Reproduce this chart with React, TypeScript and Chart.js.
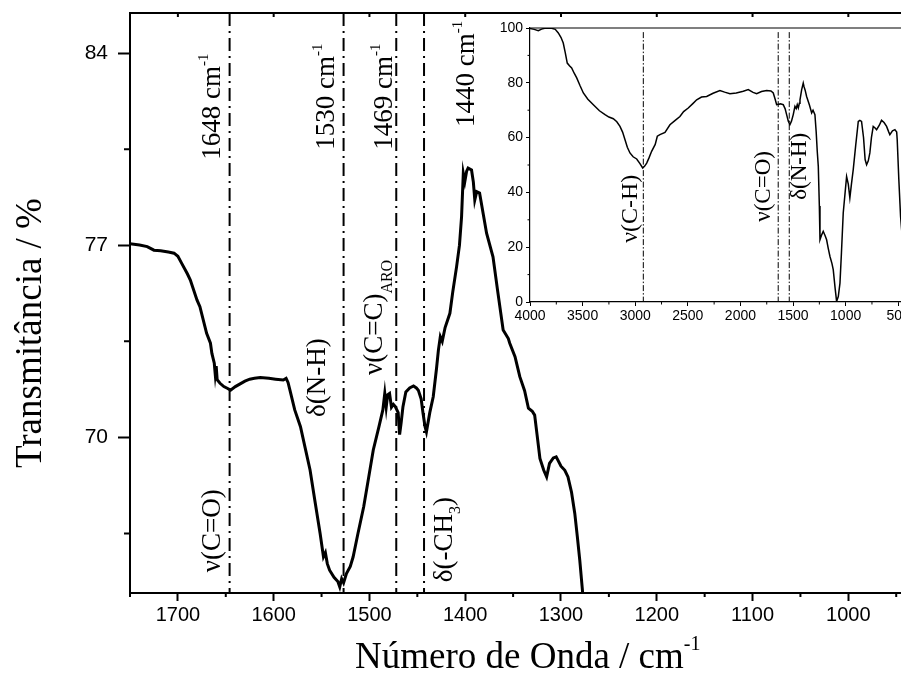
import React, { useEffect, useRef } from 'react';
import { Chart, registerables } from 'chart.js';

Chart.register(...registerables);

// ---------------- DATA ----------------
const mainWavenumber = [
  1750, 1740, 1732, 1725, 1718, 1710, 1704, 1700, 1696, 1690, 1687, 1680, 1677, 1670, 1666, 1664.5,
  1662, 1661, 1660, 1659, 1656, 1652, 1648, 1645, 1640, 1635, 1630, 1625, 1620, 1614, 1605, 1598,
  1590, 1587, 1585, 1583, 1578, 1572, 1567, 1562, 1557, 1551.5, 1548, 1546, 1544, 1541.6, 1537, 1533,
  1531, 1529, 1527, 1524, 1520, 1517, 1512, 1506, 1501, 1496, 1490, 1486, 1484, 1482.5, 1481, 1479,
  1477, 1475, 1473, 1470, 1468.5, 1467, 1465, 1462, 1458, 1454, 1451, 1449, 1446, 1444, 1442, 1440.5,
  1437, 1433.4, 1430, 1428, 1426, 1424, 1421, 1416, 1413, 1409, 1406, 1403.8, 1402, 1400.4, 1398.5, 1397,
  1393.4, 1391.5, 1390, 1388, 1385, 1381, 1377.7, 1371, 1366, 1360.4, 1355, 1353.5, 1348, 1343, 1338, 1334,
  1330, 1327.5, 1325, 1322, 1318, 1315, 1312, 1308, 1305, 1300, 1296, 1292.7, 1289, 1285.6, 1283, 1280.4,
  1277.6, 1275,
];
const mainTransmittance = [
  77.05, 77.01, 76.95, 76.82, 76.8, 76.75, 76.71, 76.6, 76.34, 75.95, 75.73, 75.0, 74.76, 73.79, 73.43, 73.06,
  72.7, 72.3, 72.6, 72.1, 71.97, 71.85, 71.78, 71.72, 71.85, 71.95, 72.05, 72.12, 72.15, 72.18, 72.15, 72.12,
  72.09, 72.15, 72.0, 71.72, 71.0, 70.39, 69.6, 68.81, 67.7, 66.5, 65.65, 65.8, 65.4, 65.16, 64.9, 64.75,
  64.55, 64.85, 64.7, 65.04, 65.3, 65.65, 66.5, 67.47, 68.5, 69.54, 70.4, 71.0, 71.6, 71.1, 71.55, 71.6,
  71.1, 71.2, 71.12, 70.9, 70.1, 70.5, 71.12, 71.65, 71.8, 71.87, 71.8, 71.72, 71.4, 70.87, 70.4, 70.2,
  70.9, 71.48, 72.5, 73.18, 73.67, 73.5, 74.0, 74.52, 75.3, 76.22, 77.0, 78.04, 79.62, 79.32, 79.7, 79.81,
  79.74, 79.3, 78.65, 78.95, 78.9, 78.1, 77.44, 76.58, 75.3, 73.91, 73.6, 73.43, 72.94, 72.21, 71.7, 71.06,
  70.95, 70.81, 70.1, 69.23, 68.8, 68.56, 69.05, 69.25, 69.29, 68.95, 68.8, 68.56, 68.0, 67.23, 66.4, 65.53,
  64.43, 63.0,
];
const mainXTicks = [1700, 1600, 1500, 1400, 1300, 1200, 1100, 1000];
const mainXMinor = [1750, 1650, 1550, 1450, 1350, 1250, 1150, 1050, 950];
const mainYTicks = [70, 77, 84];
const mainYMinor = [66.5, 73.5, 80.5];
const mainMarkers = [1646, 1527, 1472, 1443];

const insetWavenumber = [
  4000, 3960, 3921, 3890, 3850, 3794, 3760, 3731, 3705, 3684, 3665, 3646, 3625, 3604, 3580, 3556,
  3525, 3493, 3450, 3398, 3340, 3287, 3250, 3208, 3175, 3145, 3120, 3097, 3075, 3050, 3020, 2986,
  2955, 2929, 2910, 2891, 2870, 2844, 2810, 2790, 2765, 2717, 2670, 2620, 2575, 2540, 2496, 2450,
  2416, 2370, 2321, 2260, 2195, 2150, 2100, 2040, 1973, 1926, 1880, 1846, 1800, 1751, 1710, 1688,
  1670, 1656, 1620, 1593, 1575, 1561, 1545, 1530, 1515, 1498, 1482, 1470, 1460, 1450, 1440, 1434,
  1418, 1403, 1395, 1385, 1371, 1345, 1323, 1310, 1292, 1280, 1270, 1260, 1250, 1244, 1228, 1213,
  1195, 1181, 1165, 1149, 1130, 1118, 1100, 1086, 1070, 1054, 1040, 1023, 1005, 991, 975, 960,
  945, 928, 905, 880, 865, 849, 830, 815, 801, 785, 770, 755, 738, 720, 706, 680,
  659, 635, 611, 590, 580, 555, 532, 515, 510, 495, 478, 465,
];
const insetTransmittance = [
  99.8, 99.5, 99.0, 99.6, 100, 99.9, 99.5, 98.2, 96.5, 94.5, 91, 87.2, 86.2, 85.4, 83.5, 81.8,
  79, 76.3, 74, 72.0, 69.8, 68.4, 67.5, 66.9, 65.8, 64.1, 62, 59.2, 56.5, 54.4, 53, 52.2,
  50.5, 48.9, 49.6, 50.7, 52.5, 55.0, 57.5, 60.5, 61.1, 61.9, 64.7, 66.3, 67.7, 69.5, 70.8, 72.5,
  73.8, 74.8, 75.0, 76.2, 77.2, 76.6, 76.0, 76.3, 76.9, 77.5, 76.5, 76.0, 76.8, 77.2, 77.0, 76.3,
  74, 72.0, 72.3, 72.0, 70.5, 68.4, 66, 64.7, 66, 68.4, 71.4, 70.6, 72.0, 70.8, 72.5, 73.8,
  77.5, 79.9, 78.5, 77.3, 75.0, 72, 69.0, 70.0, 68.4, 62, 55, 49.5, 35, 22.7, 24.5, 25.8,
  24.2, 22.7, 19.5, 16.6, 14, 11.8, 5, 0.2, 2, 6.9, 18, 32.5, 40, 45.8, 43, 38.0,
  43, 48.3, 57, 65.9, 66.3, 65.9, 60, 52, 50.1, 51.5, 54.4, 60, 64.1, 63.5, 62.9, 64.5,
  66.3, 65.5, 64.1, 62, 61.1, 62.5, 62.9, 62, 59.2, 45, 31.2, 25,
];
const insetXTicks = [4000, 3500, 3000, 2500, 2000, 1500, 1000, 500];
const insetXMinor = [3750, 3250, 2750, 2250, 1750, 1250, 750];
const insetYTicks = [0, 20, 40, 60, 80, 100];
const insetYMinor = [10, 30, 50, 70, 90];
const insetMarkers = [2923, 1641, 1536];

// ---------------- STYLE ----------------
const SERIF = '"Liberation Serif", "Times New Roman", serif';
const SANS = '"Liberation Sans", Arial, sans-serif';

type Seg = { t: string; size: number; dy: number };

const mainLabels: { x: number; y: number; segs: Seg[] }[] = [
  { x: 1655.8, y: 80.11, segs: [{ t: '1648 cm', size: 27, dy: 0 }, { t: '-1', size: 15, dy: -12 }] },
  { x: 1537.0, y: 80.48, segs: [{ t: '1530 cm', size: 27, dy: 0 }, { t: '-1', size: 15, dy: -12 }] },
  { x: 1476.5, y: 80.48, segs: [{ t: '1469 cm', size: 27, dy: 0 }, { t: '-1', size: 15, dy: -12 }] },
  { x: 1391.0, y: 81.31, segs: [{ t: '1440 cm', size: 27, dy: 0 }, { t: '-1', size: 15, dy: -12 }] },
  { x: 1655.8, y: 65.09, segs: [{ t: 'ν(C=O)', size: 27, dy: 0 }] },
  { x: 1546.4, y: 70.74, segs: [{ t: 'δ(N-H)', size: 27, dy: 0 }] },
  { x: 1486.9, y: 72.27, segs: [{ t: 'ν(C=C)', size: 27, dy: 0 }, { t: 'ARO', size: 16, dy: 10 }] },
  { x: 1413.9, y: 64.72, segs: [{ t: 'δ(-CH', size: 27, dy: 0 }, { t: '3', size: 16, dy: 8 }, { t: ')', size: 27, dy: 0 }] },
];
const insetLabels: { x: number; y: number; segs: Seg[] }[] = [
  { x: 2983, y: 21.6, segs: [{ t: 'ν(C-H)', size: 24, dy: 0 }] },
  { x: 1719, y: 29.3, segs: [{ t: 'ν(C=O)', size: 23, dy: 0 }] },
  { x: 1377, y: 37.3, segs: [{ t: 'δ(N-H)', size: 23, dy: 0 }] },
];

function drawRich(ctx: CanvasRenderingContext2D, x: number, y: number, rot: number, segs: Seg[], family: string) {
  ctx.save();
  ctx.translate(x, y);
  ctx.rotate(rot);
  ctx.textAlign = 'left';
  ctx.textBaseline = 'alphabetic';
  ctx.fillStyle = '#000';
  let cx = 0;
  for (const s of segs) {
    ctx.font = `${s.size}px ${family}`;
    ctx.fillText(s.t, cx, s.dy);
    cx += ctx.measureText(s.t).width;
  }
  ctx.restore();
}

const MAIN_X = { min: 945, max: 1750 };
const MAIN_Y = { min: 64.33, max: 85.46 };
const INSET_X = { min: 474, max: 4000 };
const INSET_Y = { min: 0, max: 100 };

const plainLabel = (v: any) => String(v);

const mainDecor = {
  id: 'mainDecor',
  afterDraw(chart: any) {
    const { ctx, chartArea: a } = chart;
    const x = chart.scales.x;
    const y = chart.scales.y;
    ctx.save();
    ctx.strokeStyle = '#000';
    ctx.lineWidth = 2;
    ctx.beginPath();
    ctx.moveTo(a.left - 1, a.top);
    ctx.lineTo(a.right, a.top);
    ctx.stroke();
    ctx.beginPath();
    mainXMinor.forEach((v) => {
      const px = x.getPixelForValue(v);
      ctx.moveTo(px, a.bottom);
      ctx.lineTo(px, a.bottom + 4);
    });
    mainXTicks.forEach((v) => {
      const px = x.getPixelForValue(v);
      ctx.moveTo(px, a.top);
      ctx.lineTo(px, a.top + 4);
    });
    mainYMinor.forEach((v) => {
      const py = y.getPixelForValue(v);
      ctx.moveTo(a.left, py);
      ctx.lineTo(a.left - 6, py);
    });
    ctx.stroke();
    mainLabels.forEach((l) => {
      drawRich(ctx, x.getPixelForValue(l.x), y.getPixelForValue(l.y), -Math.PI / 2, l.segs, SERIF);
    });
    // axis titles
    drawRich(ctx, 355, 668, 0, [
      { t: 'Número de Onda / cm', size: 37, dy: 0 },
      { t: '-1', size: 20, dy: -18 },
    ], SERIF);
    drawRich(ctx, 41, 468, -Math.PI / 2, [{ t: 'Transmitância / %', size: 37, dy: 0 }], SERIF);
    ctx.restore();
  },
};

const insetDecor = {
  id: 'insetDecor',
  afterDraw(chart: any) {
    const { ctx, chartArea: a } = chart;
    const x = chart.scales.x;
    const y = chart.scales.y;
    ctx.save();
    ctx.strokeStyle = '#000';
    ctx.lineWidth = 1.2;
    ctx.beginPath();
    ctx.moveTo(a.left, a.top);
    ctx.lineTo(a.right, a.top);
    ctx.stroke();
    ctx.lineWidth = 1;
    ctx.beginPath();
    insetXMinor.forEach((v) => {
      const px = x.getPixelForValue(v);
      ctx.moveTo(px, a.bottom);
      ctx.lineTo(px, a.bottom + 2.5);
    });
    insetYMinor.forEach((v) => {
      const py = y.getPixelForValue(v);
      ctx.moveTo(a.left, py);
      ctx.lineTo(a.left - 2.5, py);
    });
    ctx.stroke();
    insetLabels.forEach((l) => {
      drawRich(ctx, x.getPixelForValue(l.x), y.getPixelForValue(l.y), -Math.PI / 2, l.segs, SERIF);
    });
    ctx.restore();
  },
};

function markerDataset(v: number, ymin: number, ymax: number, width: number, dash: number[]) {
  return {
    data: [{ x: v, y: ymax }, { x: v, y: ymin }],
    borderColor: '#000',
    borderWidth: width,
    borderDash: dash,
    pointRadius: 0,
    fill: false,
    tension: 0,
  };
}

export default function App() {
  const mainRef = useRef<HTMLCanvasElement>(null);
  const insetRef = useRef<HTMLCanvasElement>(null);

  useEffect(() => {
    const mainData = mainWavenumber.map((w, i) => ({ x: w, y: mainTransmittance[i] }));
    const insetData = insetWavenumber.map((w, i) => ({ x: w, y: insetTransmittance[i] }));

    const main = new Chart(mainRef.current as HTMLCanvasElement, {
      type: 'line',
      data: {
        datasets: [
          ...mainMarkers.map((m) => markerDataset(m, MAIN_Y.min, MAIN_Y.max, 2, [13, 5, 2, 5])),
          {
            data: mainData,
            borderColor: '#000',
            borderWidth: 3,
            pointRadius: 0,
            fill: false,
            tension: 0,
          },
        ] as any,
      },
      options: {
        responsive: false,
        animation: false,
        devicePixelRatio: 1,
        layout: { padding: { top: 13, right: 0, left: 0, bottom: 0 } },
        plugins: { legend: { display: false }, tooltip: { enabled: false } },
        scales: {
          x: {
            type: 'linear',
            reverse: true,
            min: MAIN_X.min,
            max: MAIN_X.max,
            afterBuildTicks: (s: any) => {
              s.ticks = mainXTicks.map((v) => ({ value: v }));
            },
            afterFit: (s: any) => {
              s.height = 95;
              s.paddingLeft = 0;
              s.paddingRight = 0;
            },
            grid: { display: true, drawOnChartArea: false, drawTicks: true, tickLength: 8, tickWidth: 2, tickColor: '#000' },
            border: { display: true, color: '#000', width: 2 },
            ticks: { color: '#000', font: { family: SANS, size: 20 }, padding: 2, maxRotation: 0, autoSkip: false, callback: plainLabel },
          },
          y: {
            type: 'linear',
            min: MAIN_Y.min,
            max: MAIN_Y.max,
            afterBuildTicks: (s: any) => {
              s.ticks = mainYTicks.map((v) => ({ value: v }));
            },
            afterFit: (s: any) => {
              s.width = 130;
              s.paddingTop = 0;
              s.paddingBottom = 0;
            },
            grid: { display: true, drawOnChartArea: false, drawTicks: true, tickLength: 12, tickWidth: 2, tickColor: '#000' },
            border: { display: true, color: '#000', width: 2 },
            ticks: { color: '#000', font: { family: SANS, size: 21 }, padding: 10, autoSkip: false, callback: plainLabel },
          },
        },
      } as any,
      plugins: [mainDecor],
    });

    const inset = new Chart(insetRef.current as HTMLCanvasElement, {
      type: 'line',
      data: {
        datasets: [
          ...insetMarkers.map((m) => markerDataset(m, INSET_Y.min, 98.5, 1, [6, 2, 1.5, 2])),
          {
            data: insetData,
            borderColor: '#000',
            borderWidth: 1.5,
            pointRadius: 0,
            fill: false,
            tension: 0,
          },
        ] as any,
      },
      options: {
        responsive: false,
        animation: false,
        devicePixelRatio: 1,
        layout: { padding: { top: 28, right: 0, left: 0, bottom: 0 } },
        plugins: { legend: { display: false }, tooltip: { enabled: false } },
        scales: {
          x: {
            type: 'linear',
            reverse: true,
            min: INSET_X.min,
            max: INSET_X.max,
            afterBuildTicks: (s: any) => {
              s.ticks = insetXTicks.map((v) => ({ value: v }));
            },
            afterFit: (s: any) => {
              s.height = 38;
              s.paddingLeft = 0;
              s.paddingRight = 0;
            },
            grid: { display: true, drawOnChartArea: false, drawTicks: true, tickLength: 4, tickWidth: 1, tickColor: '#000' },
            border: { display: true, color: '#000', width: 1.2 },
            ticks: { color: '#000', font: { family: SANS, size: 14 }, padding: 2, maxRotation: 0, autoSkip: false, callback: plainLabel },
          },
          y: {
            type: 'linear',
            min: INSET_Y.min,
            max: INSET_Y.max,
            afterBuildTicks: (s: any) => {
              s.ticks = insetYTicks.map((v) => ({ value: v }));
            },
            afterFit: (s: any) => {
              s.width = 50;
              s.paddingTop = 0;
              s.paddingBottom = 0;
            },
            grid: { display: true, drawOnChartArea: false, drawTicks: true, tickLength: 4, tickWidth: 1, tickColor: '#000' },
            border: { display: true, color: '#000', width: 1.2 },
            ticks: { color: '#000', font: { family: SANS, size: 14 }, padding: 3, autoSkip: false, callback: plainLabel },
          },
        },
      } as any,
      plugins: [insetDecor],
    });

    return () => {
      main.destroy();
      inset.destroy();
    };
  }, []);

  return (
    <div style={{ position: 'absolute', left: 0, top: 0, width: 901, height: 688, overflow: 'hidden', background: '#fff' }}>
      <canvas ref={mainRef} width={901} height={688} style={{ position: 'absolute', left: 0, top: 0, display: 'block' }} />
      <canvas ref={insetRef} width={421} height={340} style={{ position: 'absolute', left: 480, top: 0, display: 'block' }} />
    </div>
  );
}
